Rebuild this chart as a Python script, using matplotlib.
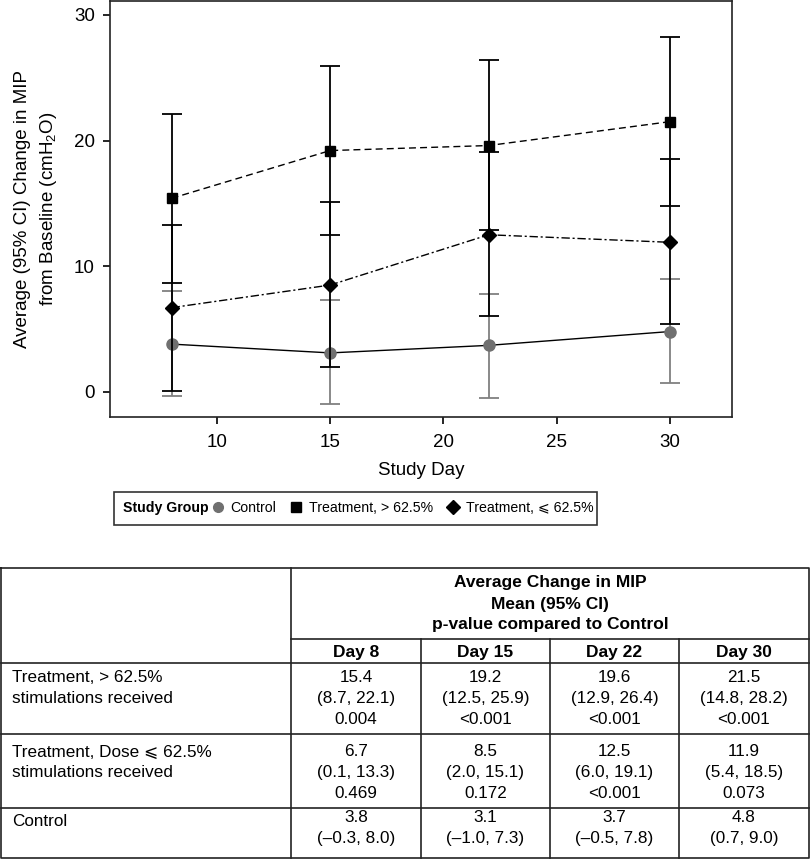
import matplotlib
matplotlib.use('Agg')
import matplotlib.pyplot as plt
import numpy as np
from matplotlib.lines import Line2D
from matplotlib.patches import Rectangle

plt.rcParams['font.family'] = ['Liberation Sans', 'DejaVu Sans']
plt.rcParams['mathtext.fontset'] = 'custom'
plt.rcParams['mathtext.rm'] = 'Liberation Sans'
plt.rcParams['mathtext.it'] = 'Liberation Sans:italic'

# data
days = [8, 15, 22, 30]
day_labels = ['Day 8', 'Day 15', 'Day 22', 'Day 30']

hi_mean = [15.4, 19.2, 19.6, 21.5]
hi_low = [8.7, 12.5, 12.9, 14.8]
hi_high = [22.1, 25.9, 26.4, 28.2]
hi_p = ['0.004', '<0.001', '<0.001', '<0.001']

lo_mean = [6.7, 8.5, 12.5, 11.9]
lo_low = [0.1, 2.0, 6.0, 5.4]
lo_high = [13.3, 15.1, 19.1, 18.5]
lo_p = ['0.469', '0.172', '<0.001', '0.073']

ctl_mean = [3.8, 3.1, 3.7, 4.8]
ctl_low = [-0.3, -1.0, -0.5, 0.7]
ctl_high = [8.0, 7.3, 7.8, 9.0]

legend_labels = ['Control', 'Treatment, > 62.5%', 'Treatment, \u2a7d 62.5%']
row_labels = [['Treatment, > 62.5%', 'stimulations received'],
              ['Treatment, Dose \u2a7d 62.5%', 'stimulations received'],
              ['Control']]
header_lines = ['Average Change in MIP', 'Mean (95% CI)', 'p-value compared to Control']

W, H = 810, 859
fig = plt.figure(figsize=(W / 100, H / 100), dpi=100)
ax = fig.add_axes([110 / W, 1 - 417 / H, 622 / W, 416 / H])

gray = '#707070'

def ci(mean, low, high):
    m = np.array(mean)
    return [m - np.array(low), np.array(high) - m]

ax.errorbar(days, ctl_mean, yerr=ci(ctl_mean, ctl_low, ctl_high), color='black', lw=1.0,
            marker='o', ms=8, mfc=gray, mec=gray, ecolor='#808080', elinewidth=1.3,
            capsize=7, capthick=1.3, zorder=2)
ax.errorbar(days, lo_mean, yerr=ci(lo_mean, lo_low, lo_high), color='black', lw=1.0,
            ls=(0, (6, 2, 1.5, 2)), marker='D', ms=7, ecolor='black', elinewidth=1.3,
            capsize=7, capthick=1.3, zorder=3)
ax.errorbar(days, hi_mean, yerr=ci(hi_mean, hi_low, hi_high), color='black', lw=1.0,
            ls=(0, (5, 3)), marker='s', ms=7, ecolor='black', elinewidth=1.3,
            capsize=7, capthick=1.3, zorder=4)

ax.set_xlim(5.28, 32.74)
ax.set_ylim(-2.0, 31.1)
ax.set_xticks([10, 15, 20, 25, 30])
ax.set_yticks([0, 10, 20, 30])
ax.tick_params(labelsize=13.5, length=5, width=1.2, direction='out')
ax.tick_params(axis='x', pad=7)
ax.tick_params(axis='y', pad=6)
for s in ax.spines.values():
    s.set_linewidth(1.2)
    s.set_color('#222222')
ax.set_xlabel('Study Day', fontsize=13.5, labelpad=8)
ax.set_ylabel('Average (95% CI) Change in MIP\nfrom Baseline (cmH$_2$O)', fontsize=13.5,
              labelpad=10.5, linespacing=1.45)

# legend box
ly = 1 - 508 / H
fig.add_artist(Rectangle((114 / W, 1 - 525 / H), (597 - 114) / W, 33 / H, transform=fig.transFigure,
                         fill=False, lw=1.2, ec='#333333'))
fig.text(123 / W, ly, 'Study Group', fontsize=10.2, fontweight='bold', va='center')
handles = [Line2D([], [], ls='none', marker='o', ms=7, color=gray),
           Line2D([], [], ls='none', marker='s', ms=7, color='black'),
           Line2D([], [], ls='none', marker='D', ms=7, color='black')]
fig.legend(handles, legend_labels, loc='center left', bbox_to_anchor=(212 / W, ly), ncol=3,
           frameon=False, fontsize=10.2, handlelength=0.8, handletextpad=0.5,
           columnspacing=1.0, borderpad=0, borderaxespad=0)

# table
tb = fig.add_axes([0, 0, 1, (H - 567) / H])
tb.set_xlim(0, W)
tb.set_ylim(H, 567)
tb.axis('off')
col_x = [291, 421, 550, 679, 809]
row_y = [663, 734, 808, 858]
lk = dict(color='#222222', lw=1.2, solid_capstyle='projecting')
tb.plot([1, 809, 809, 1, 1], [568, 568, 858, 858, 568], **lk)
tb.plot([291, 291], [568, 858], **lk)
tb.plot([291, 809], [639, 639], **lk)
for y in row_y[:-1]:
    tb.plot([1, 809], [y, y], **lk)
for x in col_x[1:-1]:
    tb.plot([x, x], [639, 858], **lk)

fs = 12.3
for i, line in enumerate(header_lines):
    tb.text(550, 583 + 21 * i, line, ha='center', va='center', fontsize=12.5, fontweight='bold')
for j, lab in enumerate(day_labels):
    tb.text((col_x[j] + col_x[j + 1]) / 2, 652, lab, ha='center', va='center', fontsize=12.5,
            fontweight='bold')

def fmt(v):
    return f'{v:.1f}'.replace('-', '\u2013')

cells = []
for j in range(4):
    cells.append([[fmt(hi_mean[j]), f'({fmt(hi_low[j])}, {fmt(hi_high[j])})', hi_p[j]],
                  [fmt(lo_mean[j]), f'({fmt(lo_low[j])}, {fmt(lo_high[j])})', lo_p[j]],
                  [fmt(ctl_mean[j]), f'({fmt(ctl_low[j])}, {fmt(ctl_high[j])})']])
first_line = [678, 752, 817]
label_first = [678, 752, 821]
for r in range(3):
    for k, lab in enumerate(row_labels[r]):
        tb.text(12, label_first[r] + 20.5 * k, lab, ha='left', va='center', fontsize=fs)
    for j in range(4):
        cx = (col_x[j] + col_x[j + 1]) / 2
        for k, s in enumerate(cells[j][r]):
            tb.text(cx, first_line[r] + 21 * k, s, ha='center', va='center', fontsize=fs)

fig.savefig('out.png', dpi=100)
